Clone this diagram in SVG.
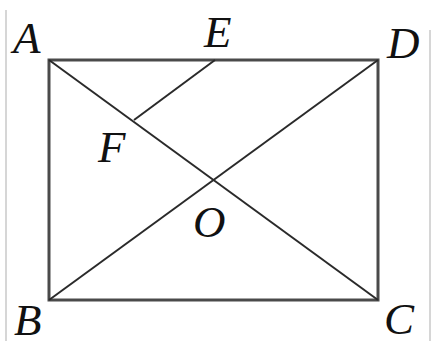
<svg xmlns="http://www.w3.org/2000/svg" width="432" height="341" viewBox="0 0 432 341">
<style>
.frame{stroke:#c8c8c8;stroke-width:1.5;fill:none}
.edge{stroke:#4a4a4a;stroke-width:3;fill:none}
.diag{stroke:#2a2a2a;stroke-width:2;fill:none}
.lbl{font-family:"Liberation Serif","Times New Roman",serif;font-style:italic;font-size:45px;fill:#111}
</style>
<rect width="432" height="341" fill="#fff"/>
<line class="frame" x1="6" y1="10" x2="6" y2="341"/>
<line class="frame" x1="430" y1="30" x2="430" y2="341"/>
<g id="connectors">
<rect class="edge" x="49" y="60" width="329" height="240"/>
<line class="diag" x1="49" y1="60" x2="378" y2="300"/>
<line class="diag" x1="49" y1="300" x2="378" y2="60"/>
<line class="diag" x1="215" y1="60" x2="134" y2="120"/>
</g>
<g id="A"><text class="lbl" x="13" y="53">A</text></g>
<g id="E"><text class="lbl" x="204" y="47">E</text></g>
<g id="D"><text class="lbl" x="387" y="58">D</text></g>
<g id="F"><text class="lbl" x="98" y="162">F</text></g>
<g id="O"><text class="lbl" x="193" y="237">O</text></g>
<g id="B"><text class="lbl" x="14" y="335">B</text></g>
<g id="C"><text class="lbl" x="384" y="334">C</text></g>
</svg>
